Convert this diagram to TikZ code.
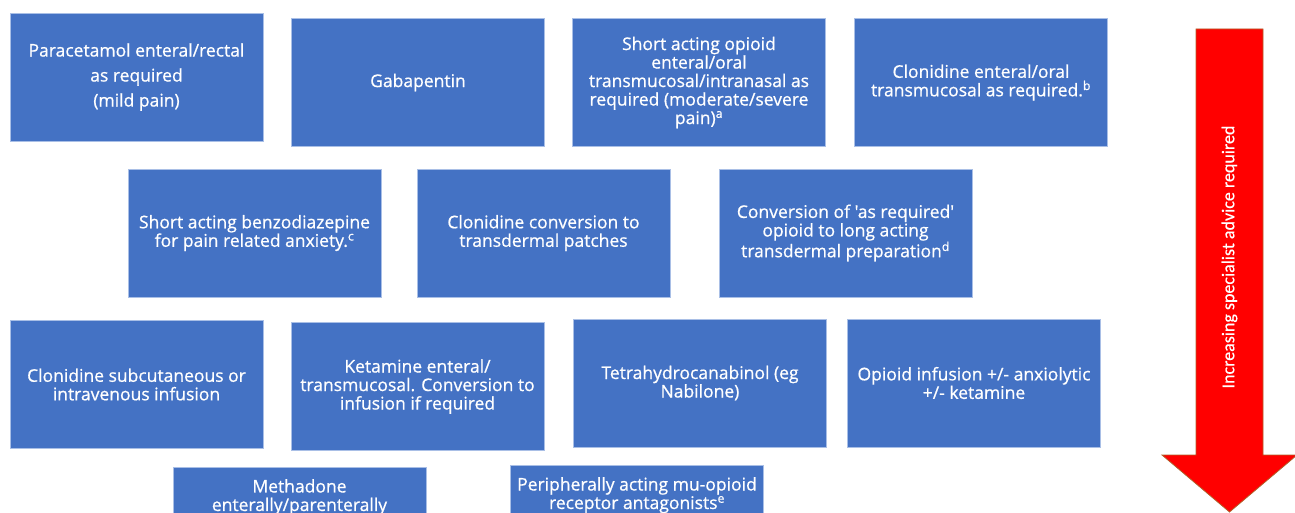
\documentclass[tikz,border=0pt]{standalone}
\usepackage{fontspec}
\setmainfont{Open Sans}
\newfontfamily\boxfont{Open Sans}[Ligatures=TeXOff, FakeBold=0.7]
\newfontfamily\arrowfont{Carlito}[FakeBold=0.4]
\definecolor{boxblue}{HTML}{4472C4}
\definecolor{boxedge}{HTML}{A9BFE6}
\definecolor{arrowred}{HTML}{FF0000}
\definecolor{arrowedge}{HTML}{B0602A}
\begin{document}
\begin{tikzpicture}[x=1pt,y=-1pt,
  box/.style={draw=boxedge, line width=0.6pt, fill=boxblue, text=white, align=center,
    minimum width=253pt, minimum height=128pt, inner sep=0pt},
  boxtext/.style={text=white, align=center, inner sep=0pt},
  fs/.style={font=\boxfont\fontsize{17.5}{18.5}\selectfont}]
\useasboundingbox (0,0) rectangle (1295,513);
\clip (0,0) rectangle (1295,513);
% row 1
\node[box,fs] (b1) at (136.5,77) {Paracetamol enteral/rectal\\[6.5pt]as required\\[6.5pt](mild pain)};
\node[box,fs] (b2) at (418,82.5) {Gabapentin};
\node[box,fs] (b3) at (699,82.5) {Short acting opioid\\enteral/oral\\transmucosal/intranasal as\\required (moderate/severe\\pain)\textsuperscript{a}};
\node[box,fs] (b4) at (981,82.5) {Clonidine enteral/oral\\transmucosal as required.\textsuperscript{b}};
% row 2
\node[box,fs] (b5) at (254.5,233) {Short acting benzodiazepine\\for pain related anxiety.\textsuperscript{c}};
\node[box,fs] (b6) at (543.5,233) {Clonidine conversion to\\transdermal patches};
\node[box,fs] (b7) at (845.5,233) {Conversion of 'as required'\\opioid to long acting\\transdermal preparation\textsuperscript{d}};
% row 3
\node[box,fs] (b8) at (136.5,384.5) {Clonidine subcutaneous or\\intravenous infusion};
\node[box,fs] (b9) at (417.5,386.5) {Ketamine enteral/\\transmucosal. Conversion to\\infusion if required};
\node[box,fs] (b10) at (700,383) {Tetrahydrocanabinol (eg\\Nabilone)};
\node[box,fs] (b11) at (974,383) {Opioid infusion +/- anxiolytic\\+/- ketamine};
% row 4 (cut by the lower edge)
\node[box,anchor=north] (b12) at (299.5,467) {};
\node[boxtext,fs,anchor=north] (t12) at ([yshift=-12pt]b12.north) {Methadone\\enterally/parenterally};
\node[box,anchor=north] (b13) at (637,465) {};
\node[boxtext,fs,anchor=north] (t13) at ([yshift=-12pt]b13.north) {Peripherally acting mu-opioid\\receptor antagonists\textsuperscript{e}};
% arrow
\draw[fill=arrowred, draw=arrowedge, line width=0.8pt]
  (1196,29) -- (1263,29) -- (1263,455) -- (1297,455) -- (1229.5,512)
  -- (1162,455) -- (1196,455) -- cycle;
\node[text=white, rotate=90, font=\arrowfont\fontsize{18}{20}\selectfont, inner sep=0pt]
  (arrowlabel) at (1229.5,257) {Increasing specialist advice required};
\end{tikzpicture}
\end{document}
